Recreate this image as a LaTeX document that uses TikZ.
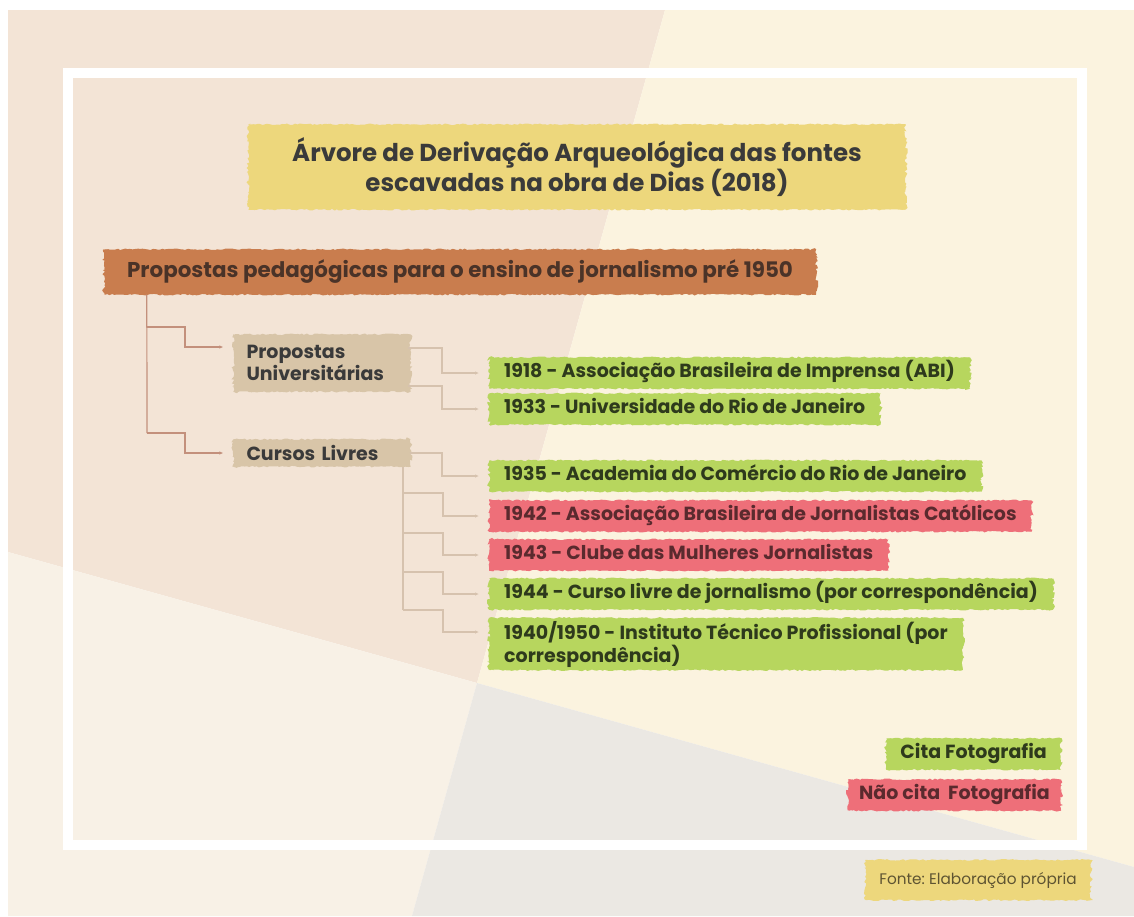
\documentclass[tikz,border=0pt]{standalone}
\usepackage{fontspec}
\setmainfont{Poppins}
\frenchspacing
\usetikzlibrary{decorations.pathmorphing,arrows.meta,calc}
\pgfdeclarelayer{bg}
\pgfdeclarelayer{boxes}
\pgfsetlayers{bg,boxes,main}
\definecolor{peach}{HTML}{F3E4D6}
\definecolor{cream}{HTML}{FBF3DF}
\definecolor{lightc}{HTML}{F8F1E6}
\definecolor{greyc}{HTML}{EBE8E3}
\definecolor{yel}{HTML}{EDD77C}
\definecolor{rootc}{HTML}{C97D4E}
\definecolor{tan}{HTML}{D8C5A8}
\definecolor{grn}{HTML}{B7D65E}
\definecolor{redc}{HTML}{EE6F79}
\definecolor{txt}{HTML}{3A3A3A}
\definecolor{rtxt}{HTML}{4A3328}
\definecolor{gtxt}{HTML}{2E3A1C}
\definecolor{redtxt}{HTML}{5A2A2E}
\definecolor{foottxt}{HTML}{5E5432}
\definecolor{lineA}{HTML}{C3907C}
\definecolor{lineB}{HTML}{D6C2AE}
\newcommand\roughfill[2]{%
  \begin{pgfonlayer}{boxes}
  \fill[#2,decorate,decoration={random steps,segment length=2.5pt,amplitude=0.8pt}]
    (#1.south west) -- (#1.south east) -- (#1.north east) -- (#1.north west) -- cycle;
  \fill[#2,decorate,decoration={random steps,segment length=2pt,amplitude=2pt}]
    ([xshift=-1pt]#1.south west) -- ([xshift=-1pt]#1.north west) -- ([xshift=4pt]#1.north west) -- ([xshift=4pt]#1.south west) -- cycle;
  \fill[#2,decorate,decoration={random steps,segment length=2pt,amplitude=2pt}]
    ([xshift=1pt]#1.south east) -- ([xshift=1pt]#1.north east) -- ([xshift=-4pt]#1.north east) -- ([xshift=-4pt]#1.south east) -- cycle;
  \end{pgfonlayer}}
\tikzset{
  bf19/.style={font=\bfseries\fontsize{19}{22}\selectfont},
  titlebox/.style={font=\bfseries\fontsize{24.5}{30}\selectfont, align=center, minimum width=655pt, minimum height=85pt, text=txt, inner sep=0pt},
  rootbox/.style={font=\bfseries\fontsize{21.4}{25}\selectfont, minimum width=710pt, minimum height=45pt, text=rtxt, inner sep=0pt},
  tanbox/.style={bf19, text width=151pt, inner xsep=12pt, inner ysep=0pt, align=left, text=txt},
  itembox/.style={bf19, anchor=west, inner xsep=14pt, inner ysep=0pt, minimum height=31pt, align=left},
  oneline/.style={text height=13.5pt, text depth=4pt},
  gtag/.style={itembox, text=gtxt},
  rtag/.style={itembox, text=redtxt},
  foot/.style={font=\fontsize{15.3}{18}\selectfont, text=foottxt, minimum height=40pt, inner xsep=13pt, inner ysep=0pt},
  conA/.style={draw=lineA, line width=1.2pt},
  conB/.style={draw=lineB, line width=1.1pt},
  arr/.style={-{Latex[length=4pt,width=3.5pt]}, shorten >=11pt}
}
\begin{document}
\begin{tikzpicture}[x=1pt,y=-1pt]
\pgfmathsetseed{7}
\useasboundingbox (0,0) rectangle (1134,916);
\begin{pgfonlayer}{bg}
\fill[white] (0,0) rectangle (1134,916);
\fill[peach] (8,10) -- (665,10) -- (477,683) -- (8,552) -- cycle;
\fill[cream] (665,10) -- (1134,10) -- (1134,867) -- (477,683) -- cycle;
\fill[lightc] (8,552) -- (477,683) -- (412,916) -- (8,916) -- cycle;
\fill[greyc] (477,683) -- (1134,867) -- (1134,916) -- (412,916) -- cycle;
\draw[white, line width=10pt] (68,73) rectangle (1082,845);
\end{pgfonlayer}

% nodes
\node[titlebox] (title) at (577,167) {Árvore de Derivação Arqueológica das fontes\\escavadas na obra de Dias (2018)};
\roughfill{title}{yel}
\node[rootbox] (root) at (460,272) {Propostas pedagógicas para o ensino de jornalismo pré 1950};
\roughfill{root}{rootc}
\node[tanbox, minimum height=57pt] (pu) at (322,363) {Propostas\\Universitárias};
\roughfill{pu}{tan}
\node[tanbox, minimum height=27pt] (cl) at (322,453) {Cursos Livres};
\roughfill{cl}{tan}

\node[gtag,oneline] (i1) at (490,373) {1918 - Associação Brasileira de Imprensa (ABI)};
\roughfill{i1}{grn}
\node[gtag,oneline] (i2) at (490,409) {1933 - Universidade do Rio de Janeiro};
\roughfill{i2}{grn}
\node[gtag,oneline] (i3) at (490,476) {1935 - Academia do Comércio do Rio de Janeiro};
\roughfill{i3}{grn}
\node[rtag,oneline] (i4) at (490,516) {1942 - Associação Brasileira de Jornalistas Católicos};
\roughfill{i4}{redc}
\node[rtag,oneline] (i5) at (490,555) {1943 - Clube das Mulheres Jornalistas};
\roughfill{i5}{redc}
\node[gtag,oneline] (i6) at (490,594) {1944 - Curso livre de jornalismo (por correspondência)};
\roughfill{i6}{grn}
\node[gtag, minimum height=52pt, font=\bfseries\fontsize{19}{23}\selectfont] (i7) at (490,644) {1940/1950 - Instituto Técnico Profissional (por\\correspondência)};
\roughfill{i7}{grn}

\node[gtag,oneline,anchor=east,inner xsep=13pt] (cita) at (1060,754) {Cita Fotografia};
\roughfill{cita}{grn}
\node[rtag,oneline,anchor=east,inner xsep=10pt] (nao) at (1060,795) {Não cita~ Fotografia};
\roughfill{nao}{redc}
\node[foot] (fonte) at (978,880) {Fonte: Elaboração própria};
\roughfill{fonte}{yel}

% level-1 connectors
\coordinate (t0) at ([xshift=42pt]root.south west);
\coordinate (ja) at (147,327);
\coordinate (jb) at (147,433);
\draw[conA] (t0) -- (jb);
\draw[conA,arr] (ja) -- (185,327) -- (185,347) -- ([yshift=16pt]pu.west);
\draw[conA,arr] (jb) -- (185,433) -- (185,453) -- (cl.west);

% level-2 connectors
\coordinate (p1) at (408,348);
\coordinate (p2) at (408,386);
\draw[conB,arr] (p1) -- (442,348) |- (i1.west);
\draw[conB,arr] (p2) -- (442,386) |- (i2.west);
\draw[conB,arr] (cl.east) -- (442,453) |- (i3.west);
\coordinate (c0) at (403,467);
\coordinate (c4) at (403,493);
\coordinate (c5) at (403,533);
\coordinate (c6) at (403,572);
\coordinate (c7) at (403,610);
\draw[conB] (c0) -- (c7);
\draw[conB,arr] (c4) -- (443,493) |- (i4.west);
\draw[conB,arr] (c5) -- (443,533) |- (i5.west);
\draw[conB,arr] (c6) -- (443,572) |- (i6.west);
\draw[conB,arr] (c7) -- (443,610) |- ([yshift=12pt]i7.west);
\end{tikzpicture}
\end{document}
